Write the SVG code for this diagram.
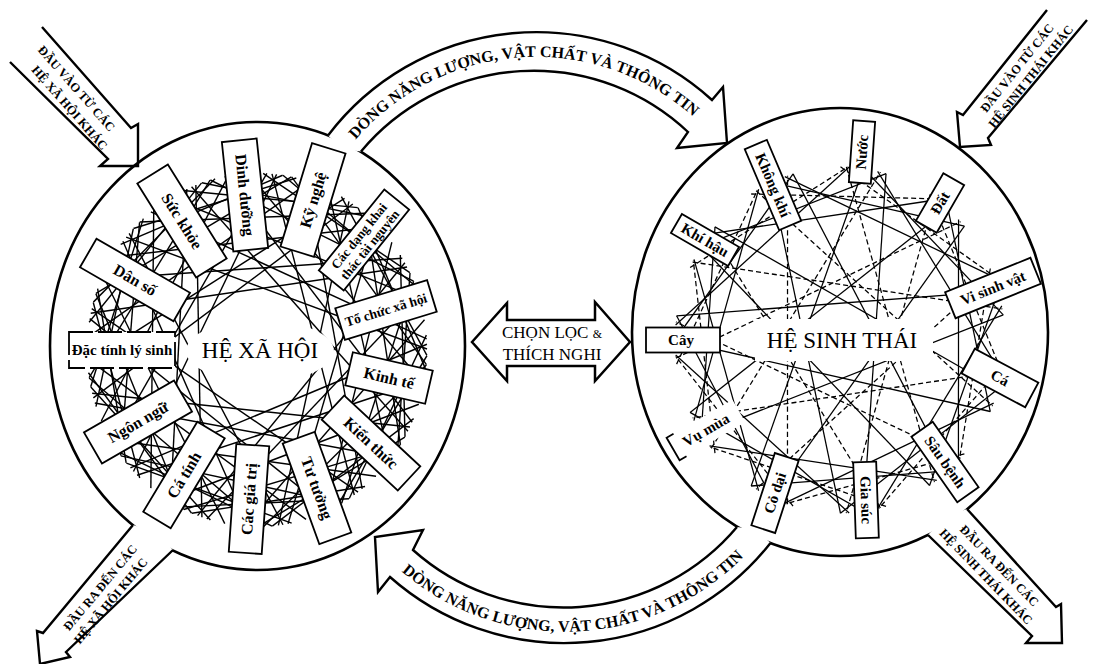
<svg xmlns="http://www.w3.org/2000/svg" width="1093" height="664" viewBox="0 0 1093 664">
<style>
.circ{fill:none;stroke:#000;stroke-width:2.6}
.box rect{fill:#fff;stroke:#000;stroke-width:1.8}
.box rect.dsh{stroke-dasharray:24 5}
.box rect.nos{stroke:none}
.box path{fill:none;stroke:#000;stroke-width:1.8}
.lbl{font-family:"Liberation Serif",serif;font-weight:bold;font-size:16px;text-anchor:middle;fill:#000}
.sm{font-size:15px}
.xs{font-size:13px}
.ctr{font-family:"Liberation Serif",serif;font-size:23px;text-anchor:middle;fill:#000}
.atx{font-family:"Liberation Serif",serif;font-size:17px;fill:#000;text-anchor:middle}
.btx{font-family:"Liberation Serif",serif;font-weight:bold;font-size:16px;fill:#000;text-anchor:middle}
.ctx{font-family:"Liberation Serif",serif;font-weight:bold;font-size:12.5px;fill:#000;text-anchor:middle}
.afill{fill:#fff;stroke:none}
.aline{fill:none;stroke:#000;stroke-width:2.4;stroke-linejoin:miter}
</style>
<defs>
<g id="spL" stroke="#000" stroke-width="1.4" fill="none">
<line x1="167.9" y1="26.6" x2="55.4" y2="160.7"/>
<line x1="167.9" y1="-26.6" x2="46.9" y2="163.4"/>
<line x1="169.6" y1="11.9" x2="-52.5" y2="161.7"/>
<line x1="169.6" y1="-11.9" x2="-87.6" y2="145.7"/>
<line x1="166.3" y1="35.3" x2="-150.1" y2="79.8"/>
<line x1="166.3" y1="-35.3" x2="113.7" y2="126.3"/>
</g>
<g id="spR" stroke="#000" stroke-width="1.25" fill="none">
<line x1="164.4" y1="14.4" x2="-9.2" y2="164.7"/>
<line stroke-dasharray="5 3" x1="164.1" y1="-17.2" x2="-120.5" y2="112.7"/>
<line x1="165" y1="0" x2="46.9" y2="158.2"/>
<line x1="163.4" y1="23" x2="-158.3" y2="46.6"/>
<line stroke-dasharray="5 3" x1="163.4" y1="-23" x2="82.5" y2="142.9"/>
</g>
<path id="tp1" d="M 349,148 A 237 237 0 0 1 701,124"/>
<path id="tp2" d="M 387,558 A 251 251 0 0 0 757,542"/>
</defs>

<g id="circles">
<ellipse class="circ" cx="257.5" cy="346" rx="207.5" ry="224"/>
<ellipse class="circ" cx="840" cy="332" rx="208" ry="224"/>
</g>

<g id="connectors">
<g transform="translate(257,350) scale(1,1.04)">
<use href="#spL" transform="rotate(180)"/>
<use href="#spL" transform="rotate(207.69)"/>
<use href="#spL" transform="rotate(235.38)"/>
<use href="#spL" transform="rotate(263.08)"/>
<use href="#spL" transform="rotate(290.77)"/>
<use href="#spL" transform="rotate(318.46)"/>
<use href="#spL" transform="rotate(346.15)"/>
<use href="#spL" transform="rotate(13.85)"/>
<use href="#spL" transform="rotate(41.54)"/>
<use href="#spL" transform="rotate(69.23)"/>
<use href="#spL" transform="rotate(96.92)"/>
<use href="#spL" transform="rotate(124.62)"/>
<use href="#spL" transform="rotate(152.31)"/>
</g>
<g transform="translate(840,340) scale(1,1.05)">
<use href="#spR" transform="rotate(180)"/>
<use href="#spR" transform="rotate(212.73)"/>
<use href="#spR" transform="rotate(245.45)"/>
<use href="#spR" transform="rotate(278.18)"/>
<use href="#spR" transform="rotate(310.91)"/>
<use href="#spR" transform="rotate(343.64)"/>
<use href="#spR" transform="rotate(16.36)"/>
<use href="#spR" transform="rotate(49.09)"/>
<use href="#spR" transform="rotate(81.82)"/>
<use href="#spR" transform="rotate(114.55)"/>
<use href="#spR" transform="rotate(147.27)"/>
</g>
<ellipse cx="260" cy="351" rx="74" ry="31" fill="#fff"/>
<rect x="755" y="319" width="178" height="42" fill="#fff"/>

<g id="flow-top">
<path class="afill" d="M 328,135.5 A 261.5 261.5 0 0 1 712,100 L 723,87 L 727,143 L 677,148 L 688,132 A 225 225 0 0 0 361,151.5 L 342,149 Z"/>
<path class="aline" d="M 328,135.5 A 261.5 261.5 0 0 1 712,100 L 723,87 L 727,143 L 677,148 L 688,132 A 225 225 0 0 0 361,151.5"/>
<text class="btx"><textPath href="#tp1" startOffset="50%">DÒNG NĂNG LƯỢNG, VẬT CHẤT VÀ THÔNG TIN</textPath></text>
</g>
<g id="flow-bottom">
<path class="afill" d="M 770.5,543 A 262.6 262.6 0 0 1 390,577 L 378,592 L 375,537 L 423,530 L 413,550 A 226.5 226.5 0 0 0 737,527 L 756,529.5 Z"/>
<path class="aline" d="M 770.5,543 A 262.6 262.6 0 0 1 390,577 L 378,592 L 375,537 L 423,530 L 413,550 A 226.5 226.5 0 0 0 737,527"/>
<text class="btx"><textPath href="#tp2" startOffset="50%">DÒNG NĂNG LƯỢNG, VẬT CHẤT VÀ THÔNG TIN</textPath></text>
</g>
<g id="in-social">
<path class="aline" d="M 42,27 L 131,128 L 138,124 L 138,166 L 100,166 L 108,159 L 10,62"/>
<text class="ctx" transform="translate(73.4,91.3) rotate(48.6)">ĐẦU VÀO TỪ CÁC</text>
<text class="ctx" transform="translate(66.5,110.5) rotate(48.6)">HỆ XÃ HỘI KHÁC</text>
</g>
<g id="in-eco">
<path class="aline" d="M 1047,10 L 963,115 L 957,112 L 960,147 L 991,145 L 988,138 L 1087,20"/>
<text class="ctx" transform="translate(1020.3,70.6) rotate(-51.3)">ĐẦU VÀO TỪ CÁC</text>
<text class="ctx" transform="translate(1034,79) rotate(-51.3)">HỆ SINH THÁI KHÁC</text>
</g>
<g id="out-eco">
<path class="afill" d="M 967,509 L 1056,607 L 1061,604 L 1062,643 L 1026,643 L 1032,636 L 928,535 L 944.6,516.8 Z"/>
<path class="aline" d="M 967,509 L 1056,607 L 1061,604 L 1062,643 L 1026,643 L 1032,636 L 928,535"/>
<text class="ctx" transform="translate(996.3,568.6) rotate(46)">ĐẦU RA ĐẾN CÁC</text>
<text class="ctx" transform="translate(983,579.5) rotate(46)">HỆ SINH THÁI KHÁC</text>
</g>
<g id="out-social">
<path class="afill" d="M 133,525 L 43,633 L 37,631 L 40,664 L 70,657 L 66,652 L 173,550 L 156,532 Z"/>
<path class="aline" d="M 133,525 L 43,633 L 37,631 L 40,664 L 70,657 L 66,652 L 173,550"/>
<text class="ctx" transform="translate(103.4,590.4) rotate(-50.2)">ĐẦU RA ĐẾN CÁC</text>
<text class="ctx" transform="translate(114,603.5) rotate(-50.2)">HỆ XÃ HỘI KHÁC</text>
</g>
<g id="selection">
<polygon points="472,342 507,303 507,320 595,320 595,302 630,342 595,381 595,366 507,366 507,381" fill="#fff" stroke="#000" stroke-width="2.5" stroke-linejoin="miter"/>
<text class="atx" x="552" y="338">CHỌN LỌC <tspan font-size="12">&amp;</tspan></text>
<text class="atx" x="552" y="360">THÍCH NGHI</text>
</g>
</g>

<g id="social-nodes">
<g id="n-dactinh" class="box" transform="translate(122,350)"><rect class="dsh" x="-53" y="-18" width="106" height="36"/><text class="lbl sm" y="5">Đặc tính lý sinh</text></g>
<g id="n-danso" class="box" transform="translate(135,280) rotate(30)"><rect x="-54" y="-16.5" width="108" height="33"/><text class="lbl" y="5.5">Dân số</text></g>
<g id="n-suckhoe" class="box" transform="translate(182,221) rotate(58)"><rect x="-55.5" y="-18" width="111" height="36"/><text class="lbl" y="5.5">Sức khỏe</text></g>
<g id="n-dinhduong" class="box" transform="translate(245,195) rotate(84)"><rect x="-55" y="-17.5" width="110" height="35"/><text class="lbl" y="5.5">Dinh dưỡng</text></g>
<g id="n-kynghe" class="box" transform="translate(313,200) rotate(-73)"><rect x="-54" y="-17.5" width="108" height="35"/><text class="lbl" y="5.5">Kỹ nghệ</text></g>
<g id="n-khaithac" class="box" transform="translate(364,240) rotate(-51)"><rect x="-52" y="-16" width="104" height="32"/><text class="lbl xs" y="-2">Các dạng khai</text><text class="lbl xs" y="12">thác tài nguyên</text></g>
<g id="n-tochuc" class="box" transform="translate(386,310) rotate(-17)"><rect x="-48" y="-16.5" width="96" height="33"/><text class="lbl" style="font-size:13.5px" y="4.5">Tổ chức xã hội</text></g>
<g id="n-kinhte" class="box" transform="translate(389,378) rotate(13)"><rect x="-41" y="-17" width="82" height="34"/><text class="lbl" y="5.5">Kinh tế</text></g>
<g id="n-kienthuc" class="box" transform="translate(371,443) rotate(43)"><rect x="-52" y="-16.5" width="104" height="33"/><text class="lbl" y="5.5">Kiến thức</text></g>
<g id="n-tutuong" class="box" transform="translate(317,488) rotate(70)"><rect x="-53.5" y="-17" width="107" height="34"/><text class="lbl" y="5.5">Tư tưởng</text></g>
<g id="n-cacgiatri" class="box" transform="translate(249,499) rotate(-86)"><rect x="-54" y="-16.5" width="108" height="33"/><text class="lbl" y="5.5">Các giá trị</text></g>
<g id="n-catinh" class="box" transform="translate(184,475) rotate(-59)"><rect x="-52.5" y="-16" width="105" height="32"/><text class="lbl" y="5.5">Cá tính</text></g>
<g id="n-ngonngu" class="box" transform="translate(138,422) rotate(-30)"><rect x="-52" y="-18" width="104" height="36"/><text class="lbl" y="5.5">Ngôn ngữ</text></g>
<g id="n-hexahoi"><text class="ctr" x="260" y="358">HỆ XÃ HỘI</text></g>
</g>

<g id="eco-nodes">
<g id="n-khongkhi" class="box" transform="translate(773,185) rotate(67)"><rect x="-44" y="-12" width="88" height="24"/><text class="lbl sm" y="5">Không khí</text></g>
<g id="n-nuoc" class="box" transform="translate(862,152) rotate(-86)"><rect x="-31" y="-11" width="62" height="22"/><text class="lbl sm" y="5">Nước</text></g>
<g id="n-dat" class="box" transform="translate(940,203) rotate(-60)"><rect x="-27.5" y="-12" width="55" height="24"/><text class="lbl sm" y="5">Đất</text></g>
<g id="n-khihau" class="box" transform="translate(705,240) rotate(30)"><rect x="-33" y="-11" width="66" height="22"/><text class="lbl sm" y="5">Khí hậu</text></g>
<g id="n-visinh" class="box" transform="translate(993,288) rotate(-22)"><rect x="-46" y="-14" width="92" height="28"/><text class="lbl sm" y="5">Vi sinh vật</text></g>
<g id="n-cay" class="box" transform="translate(683,340)"><rect x="-37" y="-12.5" width="74" height="25"/><text class="lbl sm" x="-2" y="5">Cây</text></g>
<g id="n-ca" class="box" transform="translate(1000,378) rotate(28)"><rect x="-36" y="-14" width="72" height="28"/><text class="lbl sm" y="5">Cá</text></g>
<g id="n-saubenh" class="box" transform="translate(945,462) rotate(55)"><rect x="-40" y="-13" width="80" height="26"/><text class="lbl sm" y="5">Sâu bệnh</text></g>
<g id="n-giasuc" class="box" transform="translate(866,500) rotate(88)"><rect x="-38" y="-11.5" width="76" height="23"/><text class="lbl sm" y="5">Gia súc</text></g>
<g id="n-codai" class="box" transform="translate(775,493) rotate(-72)"><rect x="-38" y="-12.5" width="76" height="25"/><text class="lbl sm" y="5">Cỏ dại</text></g>
<g id="n-vumua" class="box" transform="translate(706,430) rotate(-30)"><rect class="nos" x="-38" y="-13" width="76" height="26"/><path d="M -30,-13 L -38,-13 L -38,13 L -30,13"/><text class="lbl sm" y="5">Vụ mùa</text></g>
<g id="n-hesinhthai"><text class="ctr" x="842" y="348">HỆ SINH THÁI</text></g>
</g>
</svg>
